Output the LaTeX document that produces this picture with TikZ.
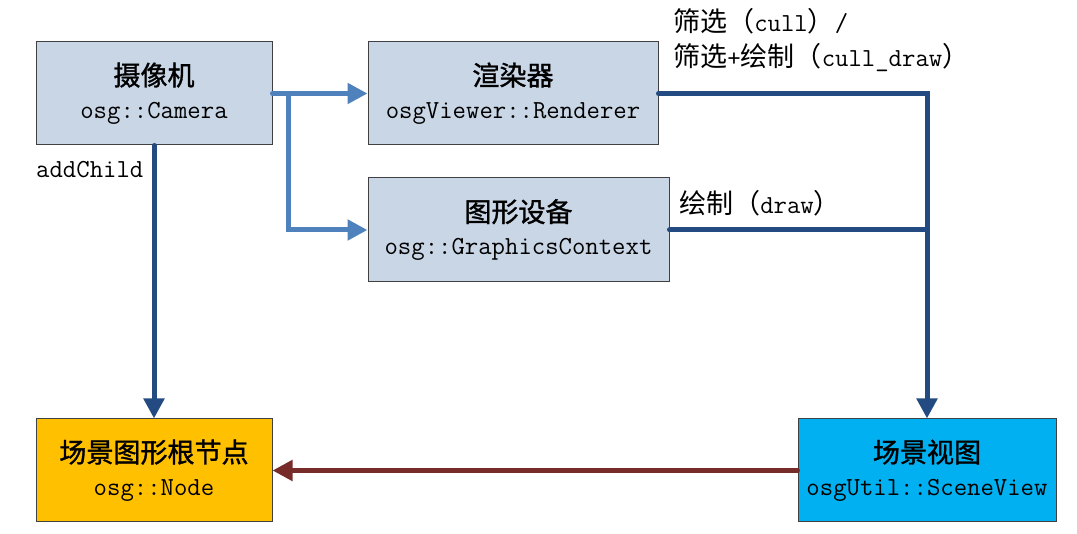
\documentclass[tikz,border=0pt]{standalone}
\usepackage{fontspec}
\newfontfamily\cjk[Scale=1.04]{Noto Sans CJK SC}
\newfontfamily\cjkb[Scale=1.04,FakeBold=1.2]{Noto Sans CJK SC}
\usetikzlibrary{arrows.meta}
\definecolor{boxblue}{HTML}{C9D6E6}
\definecolor{boxorange}{HTML}{FFC000}
\definecolor{boxcyan}{HTML}{00B0F0}
\definecolor{lblue}{HTML}{4F81BD}
\definecolor{dblue}{HTML}{234B82}
\definecolor{brownred}{HTML}{772C2A}
\definecolor{edge}{HTML}{404040}
\tikzset{
  box/.style={draw=edge, line width=1pt, rectangle, align=center, inner sep=0pt,
    font=\ttfamily\fontsize{26}{33}\selectfont},
  lbl/.style={anchor=west, inner sep=0pt, align=left, font=\ttfamily\fontsize{26}{35}\selectfont},
  conn/.style={line width=5pt, line cap=round, -{Triangle[length=20pt,width=20pt]}},
  connplain/.style={line width=5pt, line cap=round},
}
\begin{document}
\begin{tikzpicture}[x=1pt,y=-1pt]
\useasboundingbox (0,0) rectangle (1077,534);
\node[box, fill=boxblue, minimum width=236pt, minimum height=103pt] (cam) at (154,93.5)
  {{\cjkb 摄像机}\\osg::Camera};
\node[box, fill=boxblue, minimum width=290pt, minimum height=103pt] (ren) at (513,93.5)
  {{\cjkb 渲染器}\\osgViewer::Renderer};
\node[box, fill=boxblue, minimum width=301pt, minimum height=104pt] (gc) at (518.5,230)
  {{\cjkb 图形设备}\\osg::GraphicsContext};
\node[box, fill=boxorange, minimum width=236pt, minimum height=103pt] (root) at (154,470.5)
  {{\cjkb 场景图形根节点}\\osg::Node};
\node[box, fill=boxcyan, minimum width=258pt, minimum height=103pt] (sv) at (927,470.5)
  {{\cjkb 场景视图}\\osgUtil::SceneView};
\coordinate (j1) at (288,93.5);
\draw[conn, lblue] (cam.east) -- (ren.west);
\draw[conn, lblue] (j1) |- (gc.west);
\draw[conn, dblue] (cam.south) -- (root.north);
\draw[conn, dblue] (ren.east) -| (sv.north);
\draw[connplain, dblue] (gc.east) -- (gc.east -| sv.north);
\draw[conn, brownred] (sv.west) -- (root.east);
\node[lbl] (addc) at (36,170) {addChild};
\node[lbl] (cull) at (673,40) {{\cjk 筛选（}cull{\cjk ）}/\\{\cjk 筛选}+{\cjk 绘制（}cull\_draw{\cjk ）}};
\node[lbl] (drw) at (679,203) {{\cjk 绘制（}draw{\cjk ）}};
\end{tikzpicture}
\end{document}
